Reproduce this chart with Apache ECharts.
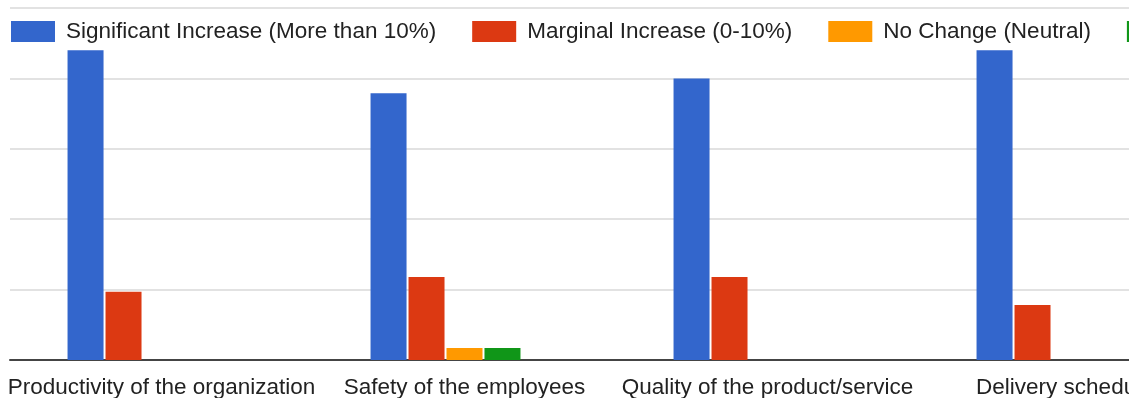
<!DOCTYPE html>
<html>
<head>
<meta charset="utf-8">
<script src="https://cdn.jsdelivr.net/npm/echarts@6/dist/echarts.min.js"></script>
<style>
  html, body { margin: 0; padding: 0; background: #fff; }
  #chart { width: 1129px; height: 398px; }
</style>
</head>
<body>
<div id="chart"></div>
<script>
var categories = ['Productivity of the organization', 'Safety of the employees', 'Quality of the product/service', 'Delivery schedules'];
var seriesNames = ['Significant Increase (More than 10%)', 'Marginal Increase (0-10%)', 'No Change (Neutral)', 'Marginal Decrease (0-10%)', 'Significant Decrease (More than 10%)'];
var significantIncrease = [44.0, 37.9, 40.0, 44.0];
var marginalIncrease = [9.7, 11.8, 11.8, 7.8];
var noChange = [0, 1.7, 0, 0];
var marginalDecrease = [0, 1.7, 0, 0];
var significantDecrease = [0, 0, 0, 0];
var colors = ['#3366cc', '#dc3912', '#ff9900', '#109618', '#990099'];

var allData = [significantIncrease, marginalIncrease, noChange, marginalDecrease, significantDecrease];
var font = 'Arial, "Liberation Sans", sans-serif';

var myChart = echarts.init(document.getElementById('chart'));

var series = [];
for (var i = 0; i < seriesNames.length; i++) {
	series.push({
		name: seriesNames[i],
		type: 'bar',
		barWidth: 36,
		barGap: '5.5%',
		itemStyle: { color: colors[i] },
		data: allData[i]
	});
}

var option = {
	animation: false,
	color: colors,
	legend: {
		left: 6,
		top: 15,
		width: 3000,
		itemWidth: 44,
		itemHeight: 21,
		itemGap: 36,
		icon: 'rect',
		textStyle: { fontFamily: font, fontSize: 22.5, color: '#222', padding: [0, 0, 0, 6] },
		data: seriesNames
	},
	grid: {
		left: 10,
		top: 8,
		bottom: 38,
		width: 1212,
		containLabel: false,
		outerBoundsMode: 'none'
	},
	xAxis: {
		type: 'category',
		data: categories,
		axisTick: { show: false },
		axisLine: { lineStyle: { color: '#444', width: 2 } },
		axisLabel: { fontFamily: font, fontSize: 22.5, color: '#222', margin: 16, interval: 0 }
	},
	yAxis: {
		type: 'value',
		min: 0,
		max: 50,
		interval: 10,
		axisLabel: { show: false },
		axisLine: { show: false },
		axisTick: { show: false },
		splitLine: { lineStyle: { color: '#d9d9d9', width: 1.5 } }
	},
	series: series
};

myChart.setOption(option);
</script>
</body>
</html>
